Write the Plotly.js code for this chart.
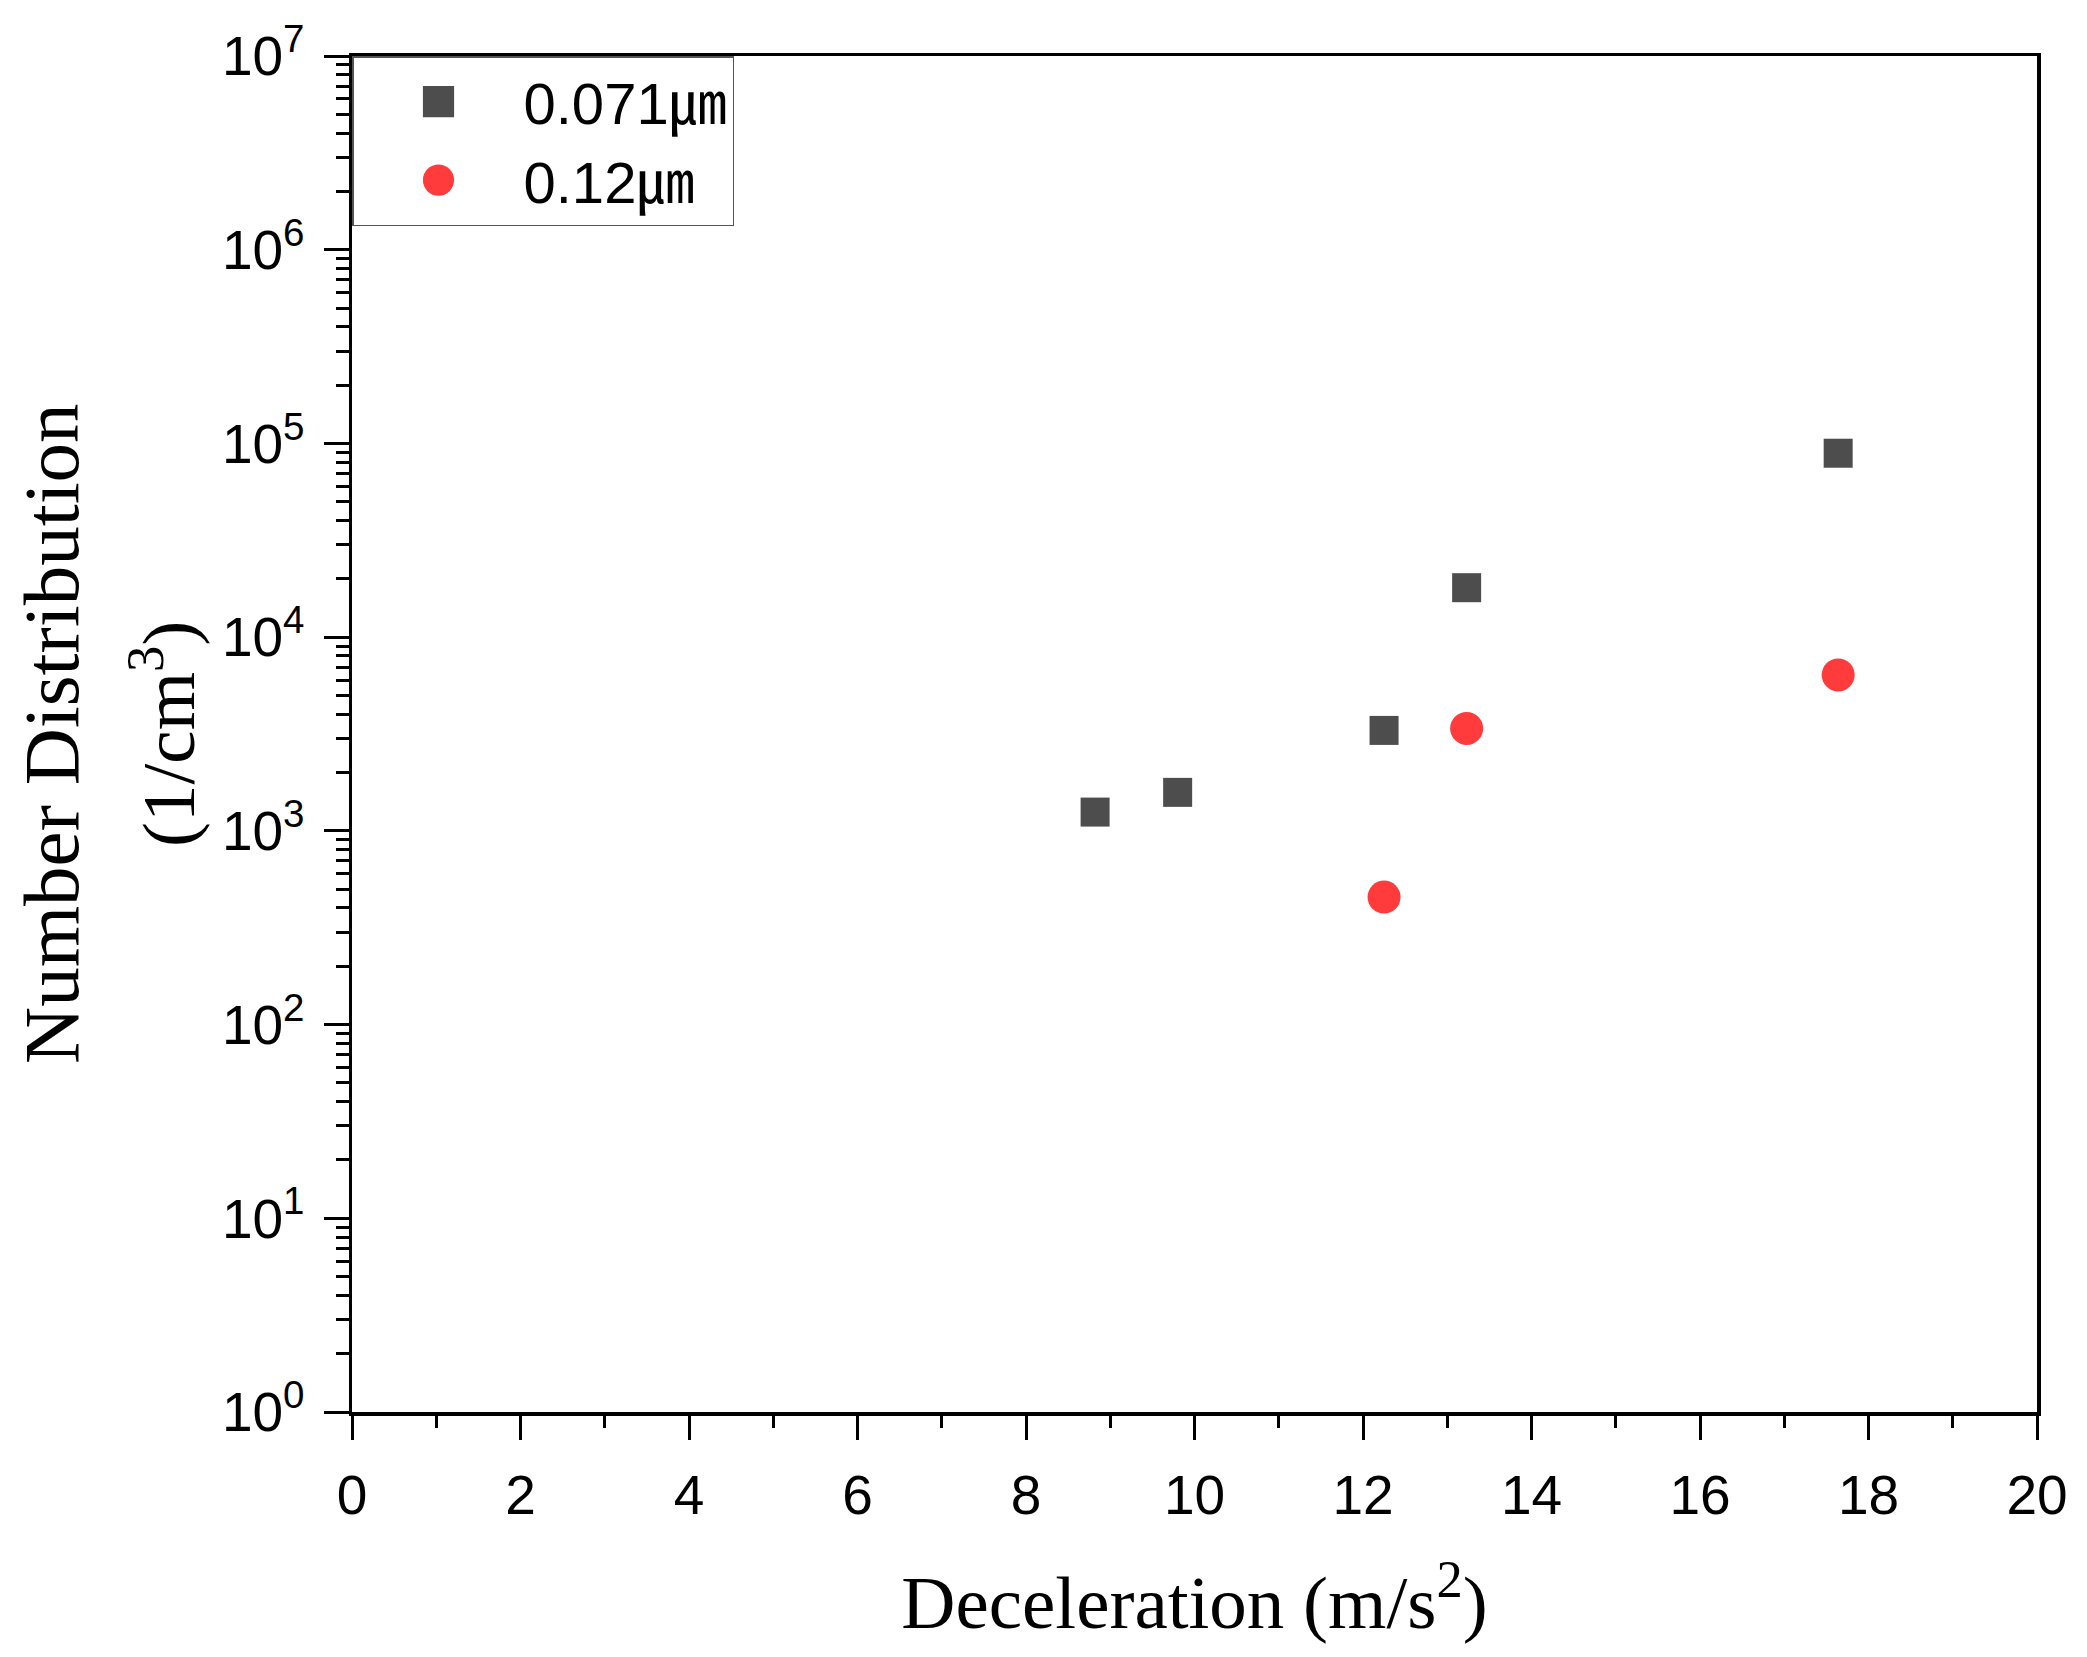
<!DOCTYPE html>
<html><head><meta charset="utf-8">
<script src="https://cdn.plot.ly/plotly-3.0.1.min.js"></script>
<style>html,body{margin:0;padding:0;background:#fff}</style>
</head><body>
<div id="chart" style="width:2087px;height:1657px"></div>
<script>
// Data
const decel071 = [8.82, 9.8, 12.25, 13.23, 17.64];
const number071 = [1250, 1580, 3300, 18000, 89000];
const decel012 = [12.25, 13.23, 17.64];
const number012 = [455, 3380, 6380];
const seriesNames = ['0.071㎛', '0.12㎛'];
const xTickVals = [0, 2, 4, 6, 8, 10, 12, 14, 16, 18, 20];
const xTickText = ['0', '2', '4', '6', '8', '10', '12', '14', '16', '18', '20'];
const yExponents = [0, 1, 2, 3, 4, 5, 6, 7];

const yTickVals = yExponents.map(e => Math.pow(10, e));
const yTickText = yExponents.map(e => '10<sup>' + e + '</sup>');
const yMinorVals = [];
yExponents.slice(0, -1).forEach(e => { for (let m = 2; m <= 9; m++) yMinorVals.push(m * Math.pow(10, e)); });

const tickFont = {family: 'Liberation Sans, Arial, sans-serif', size: 55, color: '#000'};
const titleFont = {family: 'Liberation Serif, Times New Roman, serif', size: 75, color: '#000'};
const titleFont1 = {family: 'Liberation Serif, Times New Roman, serif', size: 79, color: '#000'};

const traces = [
  {x: decel071, y: number071, name: seriesNames[0], type: 'scatter', mode: 'markers',
   marker: {symbol: 'square', size: 29, color: '#4d4d4d'}},
  {x: decel012, y: number012, name: seriesNames[1], type: 'scatter', mode: 'markers',
   marker: {symbol: 'circle', size: 33, color: '#ff3b3b'}}
];

const layout = {
  width: 2087, height: 1657,
  paper_bgcolor: '#fff', plot_bgcolor: '#fff',
  margin: {l: 352, r: 50, t: 56, b: 245, pad: 0},
  showlegend: true,
  legend: {x: 0, y: 1, xanchor: 'left', yanchor: 'top', bgcolor: '#fff',
           bordercolor: '#555', borderwidth: 1.5, itemwidth: 160,
           font: {family: 'Liberation Sans, Arial, Noto Sans CJK KR, sans-serif', size: 58, color: '#000'},
           tracegroupgap: 0},
  xaxis: {
    range: [0, 20], tickmode: 'array', tickvals: xTickVals, ticktext: xTickText,
    ticks: 'outside', ticklen: 24, tickwidth: 3, tickcolor: '#000', ticklabelstandoff: 8,
    minor: {dtick: 1, tick0: 0, ticks: 'outside', ticklen: 12, tickwidth: 3, tickcolor: '#000'},
    showline: true, linewidth: 3.5, linecolor: '#000', mirror: true,
    showgrid: false, zeroline: false, tickfont: tickFont,
    title: {text: 'Deceleration (m/s<sup>2</sup>)', font: titleFont, standoff: 52},
    automargin: false
  },
  yaxis: {
    type: 'log', range: [0, 7], tickmode: 'array', tickvals: yTickVals, ticktext: yTickText,
    ticks: 'outside', ticklen: 25, tickwidth: 3, tickcolor: '#000', ticklabelstandoff: 8,
    minor: {tickmode: 'array', tickvals: yMinorVals, ticks: 'outside', ticklen: 13, tickwidth: 3, tickcolor: '#000'},
    showline: true, linewidth: 3.5, linecolor: '#000', mirror: true,
    showgrid: false, zeroline: false, tickfont: tickFont,
    automargin: false
  },
  annotations: [
    {text: 'Number Distribution', xref: 'paper', yref: 'paper', x: -0.1787, y: 0.5,
     xanchor: 'center', yanchor: 'middle', textangle: -90, showarrow: false, font: titleFont1},
    {text: '(1/cm<sup>3</sup>)', xref: 'paper', yref: 'paper', x: -0.1122, y: 0.5,
     xanchor: 'center', yanchor: 'middle', textangle: -90, showarrow: false, font: titleFont}
  ]
};

Plotly.newPlot('chart', traces, layout, {staticPlot: true, displayModeBar: false}).then(gd => {
  // Plotly caps legend symbols at 16px; enlarge them to match the reference symbols
  gd.querySelectorAll('.legend .legendpoints path').forEach(p => {
    const t = p.getAttribute('transform') || '';
    p.setAttribute('transform', t + ' scale(1.95)');
  });
});
</script>
</body></html>
